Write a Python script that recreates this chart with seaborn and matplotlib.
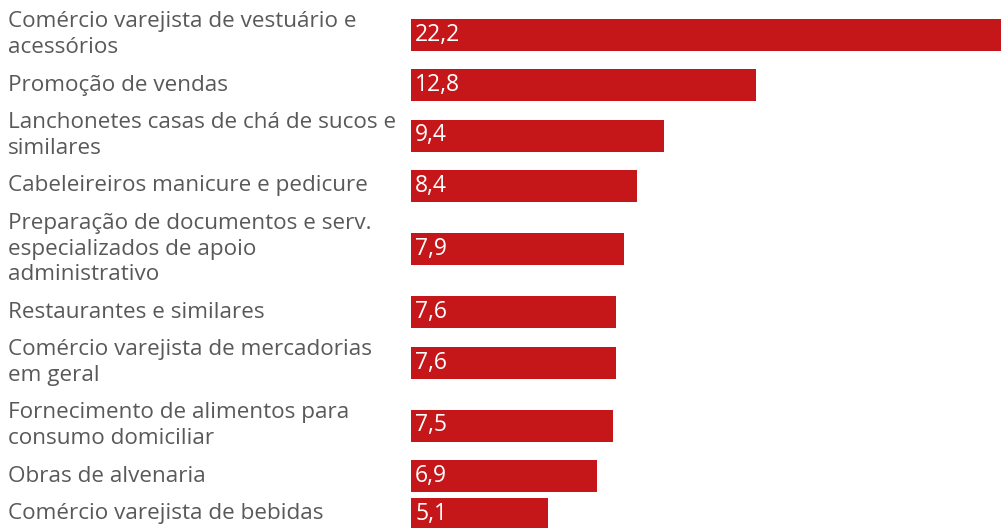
import numpy as np
import pandas as pd
import matplotlib
matplotlib.use("Agg")
import matplotlib.pyplot as plt
import matplotlib.transforms as mtransforms
import seaborn as sns

# Activity sectors (label line breaks as printed) and their values
categories = [
    "Comércio varejista de vestuário e\nacessórios",
    "Promoção de vendas",
    "Lanchonetes casas de chá de sucos e\nsimilares",
    "Cabeleireiros manicure e pedicure",
    "Preparação de documentos e serv.\nespecializados de apoio\nadministrativo",
    "Restaurantes e similares",
    "Comércio varejista de mercadorias\nem geral",
    "Fornecimento de alimentos para\nconsumo domiciliar",
    "Obras de alvenaria",
    "Comércio varejista de bebidas",
]
values = [22.2, 12.8, 9.4, 8.4, 7.9, 7.6, 7.6, 7.5, 6.9, 5.1]
value_labels = [f"{v:.1f}".replace(".", ",") for v in values]

# Layout (pixel units on the vertical axis)
W, H = 1001, 528
LINE_H = 25.0        # height of one text line
BAR_H = 32.0         # bar thickness
TEXT_GAP = 13.0      # minimum space between label blocks
MIN_PITCH = 38.0     # minimum distance between bar centres
FIRST_CENTER = 34.5
BAR_COLOR = "#c5161a"
TEXT_COLOR = "#595959"

# Row centres: rows grow with the number of lines in their labels
n_lines = [c.count("\n") + 1 for c in categories]
centers = [FIRST_CENTER]
for a, b in zip(n_lines[:-1], n_lines[1:]):
    pitch = max(MIN_PITCH, LINE_H / 2 * (a + b) + TEXT_GAP)
    centers.append(centers[-1] + pitch)
centers = np.array(centers)

df = pd.DataFrame({"pos": centers, "value": values, "sector": categories})

sns.set_theme(style="white")
plt.rcParams["font.family"] = ["Open Sans", "DejaVu Sans"]

fig = plt.figure(figsize=(W / 100, H / 100), dpi=100)
fig.patch.set_facecolor("white")
ax = fig.add_axes([411 / W, 0, 1 - 411 / W, 1])

min_gap = np.min(np.diff(np.sort(centers)))
sns.barplot(
    data=df, x="value", y="pos", orient="y", native_scale=True,
    color=BAR_COLOR, saturation=1, errorbar=None,
    width=BAR_H / min_gap, linewidth=0, ax=ax,
)

ax.set_xlim(0, 21.9)
ax.set_ylim(H, 0)
ax.axis("off")

# Sector names on the left, centred on their bars
trans = mtransforms.blended_transform_factory(fig.transFigure, ax.transData)
for name, y in zip(categories, centers):
    ax.text(8 / W, y, name, transform=trans, ha="left", va="center",
            fontsize=16.2, color=TEXT_COLOR, linespacing=1.27, clip_on=False)

# Values printed inside the bars
for lab, y in zip(value_labels, centers):
    ax.annotate(lab, xy=(0, y), xytext=(3, 0), textcoords="offset points",
                ha="left", va="center", fontsize=16.5, color="white")

fig.savefig("out.png", dpi=100, facecolor="white")
